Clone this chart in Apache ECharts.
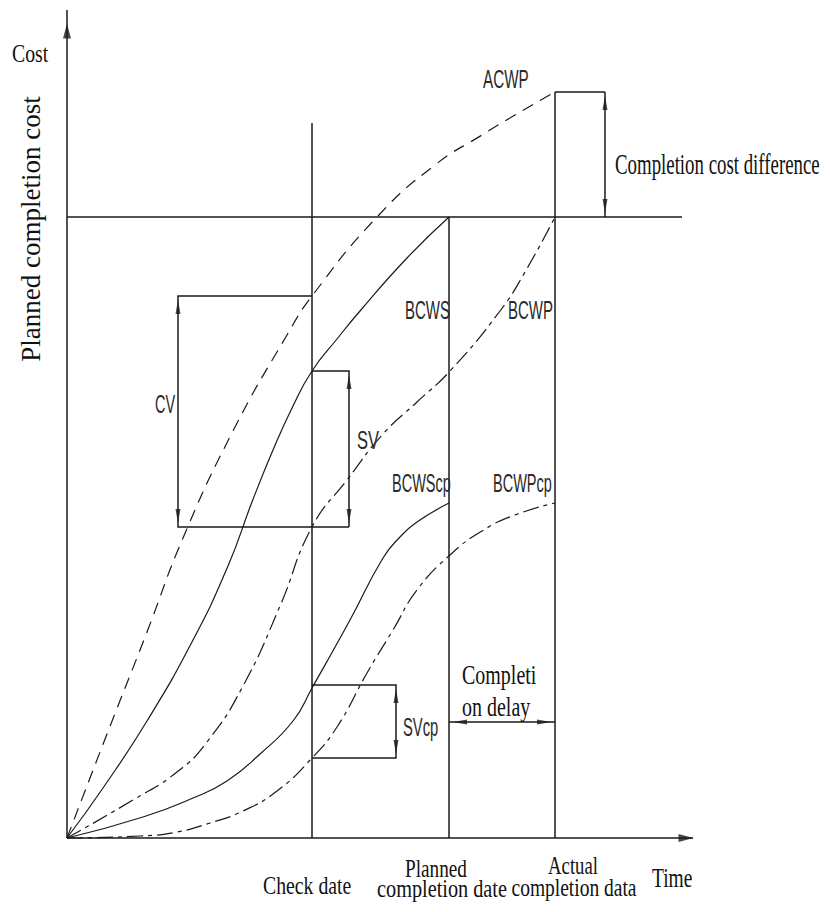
<!DOCTYPE html>
<html><head><meta charset="utf-8">
<script src="https://cdn.jsdelivr.net/npm/echarts@6/dist/echarts.min.js"></script>
<style>html,body{margin:0;padding:0;background:#fff}#c{width:830px;height:912px}</style>
</head><body><div id="c"></div>
<script>
// ---- Data (time / cost measured from the diagram origin, arbitrary units) ----
const checkDate = 245, plannedDate = 382, actualDate = 488;
const plannedCost = 621, actualCost = 746;
const acwpAtCheck = 542, bcwsAtCheck = 467, bcwpAtCheck = 311;
const bcwscpAtCheck = 153, bcwpcpAtCheck = 80;
const timeAxisEnd = 626, costAxisEnd = 828;
const checkLineTop = 715, plannedCostLineEnd = 615;
const cvArrowT = 111, svArrowT = 282, svcpArrowT = 329, costDiffArrowT = 538, delayArrowC = 116;

const ACWP = [[0,0],[40,104],[80,206],[116,300],[166,407],[220,503],[245,542],[310,621],[368,673],[415,703],[448,723],[488,746]];
const BCWS = [[0,0],[36,50],[80,117],[126,198],[161,272],[185,336],[206,388],[226,432],[245,467],[270,499],[293,527],[340,580],[382,621]];
const BCWP = [[0,0],[66,38],[110,66],[140,96],[176,152],[213,232],[245,311],[280,358],[316,404],[350,436],[383,467],[433,527],[458,566],[488,621]];
const BCWScp = [[0,0],[76,21],[126,40],[160,57],[193,84],[226,117],[245,150],[283,218],[316,280],[333,301],[350,316],[382,335]];
const BCWPcp = [[0,0],[73,2],[110,6],[143,15],[176,27],[210,47],[245,80],[270,111],[300,165],[326,208],[350,248],[383,283],[415,307],[448,323],[488,335]];

// ---- Chart ----
const INK = '#1a1a1a';
const serif = '"Liberation Serif","Times New Roman",serif';
const sans = '"Liberation Sans",Arial,sans-serif';

const straight = [
  [[0,0],[0,costAxisEnd]],
  [[0,0],[timeAxisEnd,0]],
  [[checkDate,0],[checkDate,checkLineTop]],
  [[plannedDate,0],[plannedDate,plannedCost]],
  [[actualDate,0],[actualDate,actualCost]],
  [[0,plannedCost],[plannedCostLineEnd,plannedCost]],
  [[actualDate,actualCost],[costDiffArrowT,actualCost]],
  [[costDiffArrowT,actualCost],[costDiffArrowT,plannedCost]],
  [[checkDate,acwpAtCheck],[cvArrowT,acwpAtCheck],[cvArrowT,bcwpAtCheck],[svArrowT,bcwpAtCheck]],
  [[checkDate,bcwsAtCheck],[svArrowT,bcwsAtCheck],[svArrowT,bcwpAtCheck]],
  [[checkDate,bcwscpAtCheck],[svcpArrowT,bcwscpAtCheck],[svcpArrowT,bcwpcpAtCheck],[checkDate,bcwpcpAtCheck]],
  [[plannedDate,delayArrowC],[actualDate,delayArrowC]]
];

// double-headed dimension arrows
const dims = [
  [[cvArrowT,acwpAtCheck],[cvArrowT,bcwpAtCheck]],
  [[svArrowT,bcwsAtCheck],[svArrowT,bcwpAtCheck]],
  [[svcpArrowT,bcwscpAtCheck],[svcpArrowT,bcwpcpAtCheck]],
  [[costDiffArrowT,actualCost],[costDiffArrowT,plannedCost]],
  [[plannedDate,delayArrowC],[actualDate,delayArrowC]]
];
function head(tip, from, inset){
  const dx = tip[0]-from[0], dy = tip[1]-from[1];
  const L = Math.hypot(dx,dy), ux = dx/L, uy = dy/L;
  const rot = Math.atan2(uy, ux)*180/Math.PI - 90;
  return [tip[0]-ux*inset, tip[1]-uy*inset, rot];
}
const smallHeads = [];
dims.forEach(d => { smallHeads.push(head(d[0], d[1], 11)); smallHeads.push(head(d[1], d[0], 11)); });
const axisHeads = [head([0,costAxisEnd-14],[0,0],7), head([timeAxisEnd,0],[0,0],7)];

function curve(name, data, type, width){
  return {name, type:'line', data, showSymbol:false, smooth:0.5,
    lineStyle:{color:INK, width:width||1.2, type}, silent:true, z:3};
}

const labels = [
  {t:'Cost', x:12, y:53, f:26, s:0.76, fam:serif},
  {t:'Completion cost difference', x:615, y:164, f:29, s:0.65, fam:serif},
  {t:'Completi', x:462, y:675, f:27, s:0.74, fam:serif},
  {t:'on delay', x:462, y:707, f:27, s:0.74, fam:serif},
  {t:'Check date', x:263, y:885, f:26, s:0.76, fam:serif},
  {t:'Planned', x:436, y:868, f:26, s:0.74, fam:serif, a:'center'},
  {t:'completion date', x:442, y:888, f:26, s:0.78, fam:serif, a:'center'},
  {t:'Actual', x:573, y:865, f:26, s:0.72, fam:serif, a:'center'},
  {t:'completion data', x:574, y:888, f:26, s:0.75, fam:serif, a:'center'},
  {t:'Time', x:652, y:878, f:27, s:0.72, fam:serif},
  {t:'ACWP', x:483, y:79, f:25, s:0.61, fam:sans},
  {t:'BCWS', x:405, y:310, f:25, s:0.6, fam:sans},
  {t:'BCWP', x:508, y:310, f:25, s:0.6, fam:sans},
  {t:'BCWScp', x:392, y:483, f:25, s:0.58, fam:sans},
  {t:'BCWPcp', x:493, y:483, f:25, s:0.58, fam:sans},
  {t:'CV', x:155, y:404, f:25, s:0.58, fam:sans},
  {t:'SV', x:357, y:440, f:25, s:0.66, fam:sans},
  {t:'SVcp', x:403, y:727, f:25, s:0.59, fam:sans}
];
const graphic = labels.map(l => ({
  type:'text', x:l.x, y:l.y, scaleX:l.s, silent:true, z:10,
  style:{text:l.t, fontSize:l.f, fontFamily:l.fam, fill: l.fam===sans ? '#2a2a2a' : '#111',
    align:l.a||'left', verticalAlign:'middle'}
}));
graphic.push({type:'text', x:31, y:229, rotation:Math.PI/2, silent:true, z:10,
  style:{text:'Planned completion cost', fontSize:27, fontFamily:serif, fill:'#111', align:'center', verticalAlign:'middle'}});

const chart = echarts.init(document.getElementById('c'), null, {renderer:'svg'});
chart.setOption({
  animation:false,
  backgroundColor:'#fff',
  grid:{left:0,right:0,top:0,bottom:0},
  xAxis:{type:'value', min:-67, max:763, show:false},
  yAxis:{type:'value', min:-74, max:838, show:false},
  series:[
    {type:'lines', coordinateSystem:'cartesian2d', polyline:true, silent:true, z:2,
      lineStyle:{color:INK, width:1.5, opacity:1},
      data: straight.map(c => ({coords:c}))},
    curve('ACWP', ACWP, [12,8]),
    curve('BCWS', BCWS, 'solid'),
    curve('BCWP', BCWP, [16,5,4,5]),
    curve('BCWScp', BCWScp, 'solid'),
    curve('BCWPcp', BCWPcp, [16,5,4,5]),
    {type:'scatter', data:smallHeads, symbol:'triangle', symbolSize:[5,14],
      symbolRotate:(v)=>v[2], itemStyle:{color:INK}, silent:true, z:5},
    {type:'scatter', data:axisHeads, symbol:'triangle', symbolSize:[8,15],
      symbolRotate:(v)=>v[2], itemStyle:{color:INK}, silent:true, z:5}
  ],
  graphic
});
</script></body></html>
